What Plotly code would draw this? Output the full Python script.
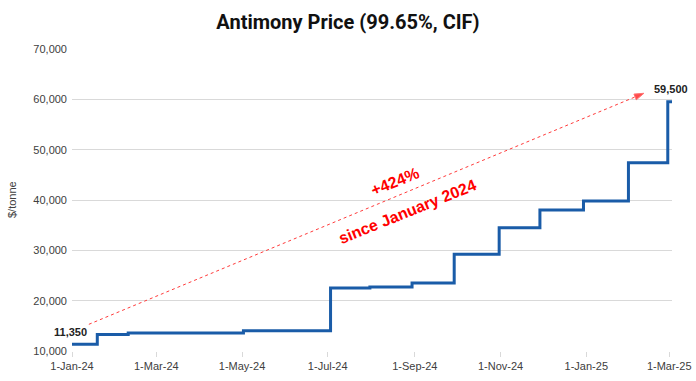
import plotly.graph_objects as go

# Step dates (price changes) and prices in $/tonne
dates = ["2024-01-01", "2024-01-19", "2024-02-10", "2024-05-02", "2024-07-03",
         "2024-07-31", "2024-08-30", "2024-09-29", "2024-10-31", "2024-11-29",
         "2024-12-30", "2025-01-31", "2025-02-28", "2025-03-03"]
prices = [11350, 13300, 13600, 14000, 22500,
          22700, 23500, 29200, 34500, 38000,
          39800, 47400, 59500, 59500]

tick_vals = ["2024-01-01", "2024-03-01", "2024-05-01", "2024-07-01", "2024-09-01",
             "2024-11-01", "2025-01-01", "2025-03-01"]
tick_text = ["1-Jan-24", "1-Mar-24", "1-May-24", "1-Jul-24", "1-Sep-24",
             "1-Nov-24", "1-Jan-25", "1-Mar-25"]
y_ticks = [10000, 20000, 30000, 40000, 50000, 60000, 70000]

arrow_x = ["2024-01-13", "2025-02-11"]
arrow_y = [15300, 61200]

fig = go.Figure()

fig.add_trace(go.Scatter(
    x=arrow_x, y=arrow_y, mode="lines+markers",
    line=dict(color="#ff3b3b", width=1, dash="dot"),
    marker=dict(symbol="arrow", size=[0, 10], angleref="previous", color="#ff0000"),
    hoverinfo="skip", showlegend=False,
))

fig.add_trace(go.Scatter(
    x=dates, y=prices, mode="lines", line_shape="hv",
    line=dict(color="#1a5ca8", width=3),
    showlegend=False,
))

fig.add_annotation(x=dates[0], y=prices[0], text="<b>11,350</b>", showarrow=False,
                   xshift=-2, yshift=12, font=dict(family="Liberation Sans", size=11, color="#222222"))
fig.add_annotation(x=dates[-2], y=prices[-2], text="<b>59,500</b>", showarrow=False,
                   xshift=3, yshift=13, font=dict(family="Liberation Sans", size=11, color="#222222"))

fig.add_annotation(x="2024-08-18", y=43600, text="<b>+424%</b>", showarrow=False, textangle=-22,
                   font=dict(family="Liberation Sans", size=16, color="#ff0000"))
fig.add_annotation(x="2024-08-27", y=37700, text="<b>since January 2024</b>", showarrow=False, textangle=-22,
                   font=dict(family="Liberation Sans", size=16, color="#ff0000"))

fig.add_annotation(xref="paper", yref="paper", x=-0.1, y=0.5, text="$/tonne", showarrow=False,
                   textangle=-90, xanchor="center", yanchor="middle",
                   font=dict(family="Liberation Sans", size=11, color="#404040"))

fig.update_layout(
    width=696, height=381,
    margin=dict(l=72, r=24, t=49, b=30, autoexpand=False),
    paper_bgcolor="white", plot_bgcolor="white",
    title=dict(text="<b>Antimony Price (99.65%, CIF)</b>", x=0.5, xanchor="center",
               y=1 - 22 / 381, yanchor="middle",
               font=dict(family="Roboto", size=20, color="#111111")),
    xaxis=dict(type="date", range=["2024-01-01", "2025-03-03"],
               tickvals=tick_vals, ticktext=tick_text, automargin=False,
               showgrid=False, showline=False, zeroline=False,
               ticks="outside", ticklen=5, tickcolor="#d9d9d9",
               tickfont=dict(family="Liberation Sans", size=11, color="#404040")),
    yaxis=dict(range=[10000, 70000], tickvals=y_ticks, automargin=False,
               tickformat=",", gridcolor="#d9d9d9", gridwidth=1, zeroline=False,
               showline=False, ticklabelstandoff=4,
               tickfont=dict(family="Liberation Sans", size=11, color="#404040")),
)

fig.write_html("out.html", config={"displayModeBar": False},
               post_script="document.body.style.margin='0';")
